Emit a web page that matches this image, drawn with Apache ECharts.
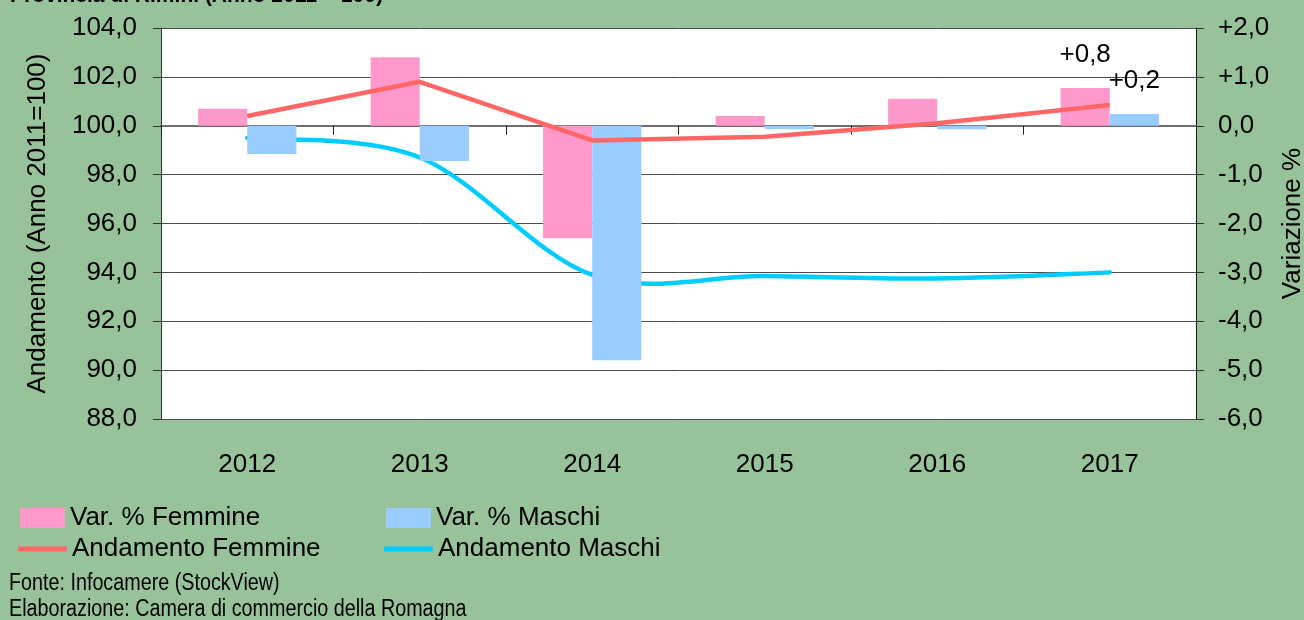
<!DOCTYPE html>
<html>
<head>
<meta charset="utf-8">
<title>Andamento imprese femminili e maschili</title>
<script src="https://cdn.jsdelivr.net/npm/echarts@6/dist/echarts.min.js"></script>
<style>
  html, body { margin: 0; padding: 0; background: #98c29a; }
  #chart { width: 1304px; height: 620px; }
</style>
</head>
<body>
<div id="chart"></div>
<script>
// dati
const years = ['2012', '2013', '2014', '2015', '2016', '2017'];
const varFemmine = [0.35, 1.4, -2.3, 0.2, 0.55, 0.77];
const varMaschi = [-0.58, -0.72, -4.8, -0.07, -0.07, 0.24];
const andFemmine = [100.4, 101.8, 99.4, 99.55, 100.1, 100.85];
const andMaschi = [99.5, 98.7, 93.9, 93.85, 93.75, 94.0];

const FONT = 'Liberation Sans, Arial, sans-serif';

const fmtComma = (v, plus) => {
  const s = Number(v).toFixed(1).replace('.', ',');
  return plus && v > 0 ? '+' + s : s;
};

// etichetta solo sull'ultimo anno
const withLastLabel = (arr) => arr.map((v, i) => {
  if (i !== arr.length - 1) return v;
  return {
    value: v,
    label: {
      show: true,
      position: 'top',
      distance: 20,
      fontFamily: FONT,
      fontSize: 26,
      color: '#000',
      formatter: (p) => fmtComma(p.value, true)
    }
  };
});

// linea smussata "stile Excel" (bezier con tangenti (P[i+1]-P[i-1])/6)
const excelSmoothPath = (pts) => {
  let d = 'M' + pts[0][0] + ' ' + pts[0][1];
  for (let i = 0; i < pts.length - 1; i++) {
    const p0 = pts[Math.max(i - 1, 0)];
    const p1 = pts[i];
    const p2 = pts[i + 1];
    const p3 = pts[Math.min(i + 2, pts.length - 1)];
    const c1x = p1[0] + (p2[0] - p0[0]) / 6;
    const c1y = p1[1] + (p2[1] - p0[1]) / 6;
    const c2x = p2[0] - (p3[0] - p1[0]) / 6;
    const c2y = p2[1] - (p3[1] - p1[1]) / 6;
    d += ' C' + c1x + ' ' + c1y + ' ' + c2x + ' ' + c2y + ' ' + p2[0] + ' ' + p2[1];
  }
  return d;
};

const legendText = { fontFamily: FONT, fontSize: 26, color: '#000' };
const legendItem = (name, left, top, icon, w, h) => ({
  data: [name],
  left: left, top: top,
  padding: 0,
  icon: icon,
  itemWidth: w, itemHeight: h,
  textStyle: legendText
});

const chart = echarts.init(document.getElementById('chart'));

const option = {
  backgroundColor: '#98c29a',
  animation: false,
  textStyle: { fontFamily: FONT, color: '#000' },
  grid: {
    left: 161, right: 108, top: 28, bottom: 201,
    outerBoundsMode: 'none',
    containLabel: false,
    show: true, backgroundColor: '#fff', borderWidth: 0
  },
  legend: [
    legendItem('Var. % Femmine', 20, 505, 'rect', 45, 20),
    legendItem('Var. % Maschi', 386, 505, 'rect', 45, 20),
    legendItem('Andamento Femmine', 18, 536, 'roundRect', 49, 5),
    legendItem('Andamento Maschi', 384, 536, 'roundRect', 49, 5)
  ],
  xAxis: {
    type: 'category',
    data: years,
    boundaryGap: true,
    axisLine: { lineStyle: { color: '#6e6e6e', width: 2 } },
    axisTick: { show: true, length: 9, lineStyle: { color: '#222', width: 1 } },
    axisLabel: { margin: 33, fontSize: 26, color: '#000', fontFamily: FONT }
  },
  yAxis: [{
    type: 'value',
    min: 88, max: 104, interval: 2,
    position: 'left',
    name: 'Andamento (Anno 2011=100)',
    nameLocation: 'middle',
    nameRotate: 90,
    nameGap: 110,
    nameTextStyle: { fontSize: 26, color: '#000', fontFamily: FONT },
    axisLine: { show: true, lineStyle: { color: '#333' } },
    axisTick: { show: true, length: 8, lineStyle: { color: '#333' } },
    axisLabel: { margin: 24, fontSize: 26, color: '#000', fontFamily: FONT, formatter: (v) => fmtComma(v) },
    splitLine: { show: true, lineStyle: { color: '#4a4a4a', width: 1 } }
  }, {
    type: 'value',
    min: -6, max: 2, interval: 1,
    position: 'right',
    name: 'Variazione %',
    nameLocation: 'middle',
    nameRotate: 90,
    nameGap: 78,
    nameTextStyle: { fontSize: 26, color: '#000', fontFamily: FONT },
    axisLine: { show: true, lineStyle: { color: '#111' } },
    axisTick: { show: true, length: 8, lineStyle: { color: '#333' } },
    axisLabel: { margin: 22, fontSize: 26, color: '#000', fontFamily: FONT, formatter: (v) => fmtComma(v, true) },
    splitLine: { show: false }
  }],
  series: [{
    name: 'Var. % Femmine',
    type: 'bar',
    yAxisIndex: 1,
    data: withLastLabel(varFemmine),
    barGap: '0%',
    barCategoryGap: '43%',
    itemStyle: { color: '#ff99cc' }
  }, {
    name: 'Var. % Maschi',
    type: 'bar',
    yAxisIndex: 1,
    data: withLastLabel(varMaschi),
    barGap: '0%',
    barCategoryGap: '43%',
    itemStyle: { color: '#99ccff' }
  }, {
    name: 'Andamento Femmine',
    type: 'line',
    yAxisIndex: 0,
    data: andFemmine,
    symbol: 'none',
    lineStyle: { color: '#ff6666', width: 4.5 },
    itemStyle: { color: '#ff6666' }
  }, {
    name: 'Andamento Maschi',
    type: 'custom',
    yAxisIndex: 0,
    data: andMaschi.map((v, i) => [i, v]),
    encode: { x: 0, y: 1 },
    itemStyle: { color: '#00ccff' },
    renderItem: (params, api) => {
      if (params.dataIndex !== 0) return null;
      const pts = andMaschi.map((v, i) => api.coord([i, v]));
      return {
        type: 'path',
        shape: { pathData: excelSmoothPath(pts) },
        style: { stroke: '#00ccff', lineWidth: 4.5, fill: 'none', lineCap: 'round', lineJoin: 'round' }
      };
    }
  }],
  graphic: [{
    type: 'text',
    x: 10, y: -3.5,
    style: {
      text: 'Provincia di Rimini (Anno 2011 = 100)',
      font: 'bold 21px Liberation Sans, Arial, sans-serif',
      fill: '#000',
      verticalAlign: 'middle'
    }
  }, {
    type: 'text',
    x: 9, y: 584,
    scaleX: 0.84,
    style: {
      text: 'Fonte: Infocamere (StockView)',
      font: '23.5px Liberation Sans, Arial, sans-serif',
      fill: '#000',
      verticalAlign: 'middle'
    }
  }, {
    type: 'text',
    x: 9, y: 610,
    scaleX: 0.84,
    style: {
      text: 'Elaborazione: Camera di commercio della Romagna',
      font: '23.5px Liberation Sans, Arial, sans-serif',
      fill: '#000',
      verticalAlign: 'middle'
    }
  }]
};

chart.setOption(option);
</script>
</body>
</html>
